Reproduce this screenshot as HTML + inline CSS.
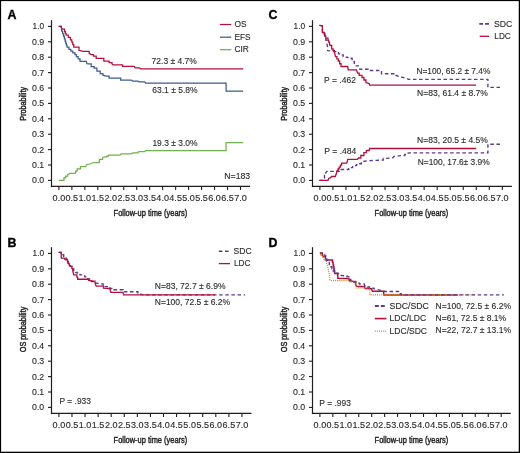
<!DOCTYPE html><html><head><meta charset="utf-8"><style>html,body{margin:0;padding:0;background:#fff;}svg{display:block;} text{font-family:"Liberation Sans", sans-serif;} .t{will-change:transform; filter:blur(0px);}</style></head><body>
<div class="t">
<svg width="520" height="453" viewBox="0 0 520 453">
<rect x="0" y="0" width="520" height="453" fill="#fff"/>
<text x="7.60" y="19.00" font-size="12.4" text-anchor="start" font-weight="bold" fill="#000" stroke="#000" stroke-width="0.35">A</text>
<line x1="51.5" y1="20.2" x2="51.5" y2="187.1" stroke="#1e1e1e" stroke-width="1.2"/>
<line x1="50.9" y1="186.4" x2="250.1" y2="186.4" stroke="#1e1e1e" stroke-width="1.2"/>
<line x1="48.0" y1="180.40" x2="51.5" y2="180.40" stroke="#1e1e1e" stroke-width="1.1"/>
<text x="44.20" y="183.35" font-size="8.3" text-anchor="end" font-weight="normal" fill="#2a2a2a" textLength="12.2" lengthAdjust="spacingAndGlyphs" stroke="#2a2a2a" stroke-width="0.12">0.0</text>
<line x1="48.0" y1="165.00" x2="51.5" y2="165.00" stroke="#1e1e1e" stroke-width="1.1"/>
<text x="44.20" y="167.95" font-size="8.3" text-anchor="end" font-weight="normal" fill="#2a2a2a" textLength="12.2" lengthAdjust="spacingAndGlyphs" stroke="#2a2a2a" stroke-width="0.12">0.1</text>
<line x1="48.0" y1="149.60" x2="51.5" y2="149.60" stroke="#1e1e1e" stroke-width="1.1"/>
<text x="44.20" y="152.55" font-size="8.3" text-anchor="end" font-weight="normal" fill="#2a2a2a" textLength="12.2" lengthAdjust="spacingAndGlyphs" stroke="#2a2a2a" stroke-width="0.12">0.2</text>
<line x1="48.0" y1="134.20" x2="51.5" y2="134.20" stroke="#1e1e1e" stroke-width="1.1"/>
<text x="44.20" y="137.15" font-size="8.3" text-anchor="end" font-weight="normal" fill="#2a2a2a" textLength="12.2" lengthAdjust="spacingAndGlyphs" stroke="#2a2a2a" stroke-width="0.12">0.3</text>
<line x1="48.0" y1="118.80" x2="51.5" y2="118.80" stroke="#1e1e1e" stroke-width="1.1"/>
<text x="44.20" y="121.75" font-size="8.3" text-anchor="end" font-weight="normal" fill="#2a2a2a" textLength="12.2" lengthAdjust="spacingAndGlyphs" stroke="#2a2a2a" stroke-width="0.12">0.4</text>
<line x1="48.0" y1="103.40" x2="51.5" y2="103.40" stroke="#1e1e1e" stroke-width="1.1"/>
<text x="44.20" y="106.35" font-size="8.3" text-anchor="end" font-weight="normal" fill="#2a2a2a" textLength="12.2" lengthAdjust="spacingAndGlyphs" stroke="#2a2a2a" stroke-width="0.12">0.5</text>
<line x1="48.0" y1="88.00" x2="51.5" y2="88.00" stroke="#1e1e1e" stroke-width="1.1"/>
<text x="44.20" y="90.95" font-size="8.3" text-anchor="end" font-weight="normal" fill="#2a2a2a" textLength="12.2" lengthAdjust="spacingAndGlyphs" stroke="#2a2a2a" stroke-width="0.12">0.6</text>
<line x1="48.0" y1="72.60" x2="51.5" y2="72.60" stroke="#1e1e1e" stroke-width="1.1"/>
<text x="44.20" y="75.55" font-size="8.3" text-anchor="end" font-weight="normal" fill="#2a2a2a" textLength="12.2" lengthAdjust="spacingAndGlyphs" stroke="#2a2a2a" stroke-width="0.12">0.7</text>
<line x1="48.0" y1="57.20" x2="51.5" y2="57.20" stroke="#1e1e1e" stroke-width="1.1"/>
<text x="44.20" y="60.15" font-size="8.3" text-anchor="end" font-weight="normal" fill="#2a2a2a" textLength="12.2" lengthAdjust="spacingAndGlyphs" stroke="#2a2a2a" stroke-width="0.12">0.8</text>
<line x1="48.0" y1="41.80" x2="51.5" y2="41.80" stroke="#1e1e1e" stroke-width="1.1"/>
<text x="44.20" y="44.75" font-size="8.3" text-anchor="end" font-weight="normal" fill="#2a2a2a" textLength="12.2" lengthAdjust="spacingAndGlyphs" stroke="#2a2a2a" stroke-width="0.12">0.9</text>
<line x1="48.0" y1="26.40" x2="51.5" y2="26.40" stroke="#1e1e1e" stroke-width="1.1"/>
<text x="44.20" y="29.35" font-size="8.3" text-anchor="end" font-weight="normal" fill="#2a2a2a" textLength="11.6" lengthAdjust="spacingAndGlyphs" stroke="#2a2a2a" stroke-width="0.12">1.0</text>
<line x1="58.90" y1="186.4" x2="58.90" y2="190.0" stroke="#1e1e1e" stroke-width="1.1"/>
<text x="58.90" y="201.30" font-size="8.3" text-anchor="middle" font-weight="normal" fill="#2a2a2a" textLength="12.6" lengthAdjust="spacingAndGlyphs" stroke="#2a2a2a" stroke-width="0.12">0.0</text>
<line x1="71.87" y1="186.4" x2="71.87" y2="190.0" stroke="#1e1e1e" stroke-width="1.1"/>
<text x="71.87" y="201.30" font-size="8.3" text-anchor="middle" font-weight="normal" fill="#2a2a2a" textLength="12.6" lengthAdjust="spacingAndGlyphs" stroke="#2a2a2a" stroke-width="0.12">0.5</text>
<line x1="84.84" y1="186.4" x2="84.84" y2="190.0" stroke="#1e1e1e" stroke-width="1.1"/>
<text x="84.84" y="201.30" font-size="8.3" text-anchor="middle" font-weight="normal" fill="#2a2a2a" textLength="12.6" lengthAdjust="spacingAndGlyphs" stroke="#2a2a2a" stroke-width="0.12">1.0</text>
<line x1="97.81" y1="186.4" x2="97.81" y2="190.0" stroke="#1e1e1e" stroke-width="1.1"/>
<text x="97.81" y="201.30" font-size="8.3" text-anchor="middle" font-weight="normal" fill="#2a2a2a" textLength="12.6" lengthAdjust="spacingAndGlyphs" stroke="#2a2a2a" stroke-width="0.12">1.5</text>
<line x1="110.78" y1="186.4" x2="110.78" y2="190.0" stroke="#1e1e1e" stroke-width="1.1"/>
<text x="110.78" y="201.30" font-size="8.3" text-anchor="middle" font-weight="normal" fill="#2a2a2a" textLength="12.6" lengthAdjust="spacingAndGlyphs" stroke="#2a2a2a" stroke-width="0.12">2.0</text>
<line x1="123.75" y1="186.4" x2="123.75" y2="190.0" stroke="#1e1e1e" stroke-width="1.1"/>
<text x="123.75" y="201.30" font-size="8.3" text-anchor="middle" font-weight="normal" fill="#2a2a2a" textLength="12.6" lengthAdjust="spacingAndGlyphs" stroke="#2a2a2a" stroke-width="0.12">2.5</text>
<line x1="136.72" y1="186.4" x2="136.72" y2="190.0" stroke="#1e1e1e" stroke-width="1.1"/>
<text x="136.72" y="201.30" font-size="8.3" text-anchor="middle" font-weight="normal" fill="#2a2a2a" textLength="12.6" lengthAdjust="spacingAndGlyphs" stroke="#2a2a2a" stroke-width="0.12">3.0</text>
<line x1="149.69" y1="186.4" x2="149.69" y2="190.0" stroke="#1e1e1e" stroke-width="1.1"/>
<text x="149.69" y="201.30" font-size="8.3" text-anchor="middle" font-weight="normal" fill="#2a2a2a" textLength="12.6" lengthAdjust="spacingAndGlyphs" stroke="#2a2a2a" stroke-width="0.12">3.5</text>
<line x1="162.66" y1="186.4" x2="162.66" y2="190.0" stroke="#1e1e1e" stroke-width="1.1"/>
<text x="162.66" y="201.30" font-size="8.3" text-anchor="middle" font-weight="normal" fill="#2a2a2a" textLength="12.6" lengthAdjust="spacingAndGlyphs" stroke="#2a2a2a" stroke-width="0.12">4.0</text>
<line x1="175.63" y1="186.4" x2="175.63" y2="190.0" stroke="#1e1e1e" stroke-width="1.1"/>
<text x="175.63" y="201.30" font-size="8.3" text-anchor="middle" font-weight="normal" fill="#2a2a2a" textLength="12.6" lengthAdjust="spacingAndGlyphs" stroke="#2a2a2a" stroke-width="0.12">4.5</text>
<line x1="188.60" y1="186.4" x2="188.60" y2="190.0" stroke="#1e1e1e" stroke-width="1.1"/>
<text x="188.60" y="201.30" font-size="8.3" text-anchor="middle" font-weight="normal" fill="#2a2a2a" textLength="12.6" lengthAdjust="spacingAndGlyphs" stroke="#2a2a2a" stroke-width="0.12">5.0</text>
<line x1="201.57" y1="186.4" x2="201.57" y2="190.0" stroke="#1e1e1e" stroke-width="1.1"/>
<text x="201.57" y="201.30" font-size="8.3" text-anchor="middle" font-weight="normal" fill="#2a2a2a" textLength="12.6" lengthAdjust="spacingAndGlyphs" stroke="#2a2a2a" stroke-width="0.12">5.5</text>
<line x1="214.54" y1="186.4" x2="214.54" y2="190.0" stroke="#1e1e1e" stroke-width="1.1"/>
<text x="214.54" y="201.30" font-size="8.3" text-anchor="middle" font-weight="normal" fill="#2a2a2a" textLength="12.6" lengthAdjust="spacingAndGlyphs" stroke="#2a2a2a" stroke-width="0.12">6.0</text>
<line x1="227.51" y1="186.4" x2="227.51" y2="190.0" stroke="#1e1e1e" stroke-width="1.1"/>
<text x="227.51" y="201.30" font-size="8.3" text-anchor="middle" font-weight="normal" fill="#2a2a2a" textLength="12.6" lengthAdjust="spacingAndGlyphs" stroke="#2a2a2a" stroke-width="0.12">6.5</text>
<line x1="240.48" y1="186.4" x2="240.48" y2="190.0" stroke="#1e1e1e" stroke-width="1.1"/>
<text x="240.48" y="201.30" font-size="8.3" text-anchor="middle" font-weight="normal" fill="#2a2a2a" textLength="12.6" lengthAdjust="spacingAndGlyphs" stroke="#2a2a2a" stroke-width="0.12">7.0</text>
<text x="113.60" y="216.00" font-size="9.2" text-anchor="start" font-weight="normal" fill="#222" textLength="73.6" lengthAdjust="spacingAndGlyphs" stroke="#222" stroke-width="0.42">Follow-up time (years)</text>
<text transform="translate(26.4,103.8) rotate(-90)" x="0" y="0" font-size="9.2" text-anchor="middle" fill="#222" textLength="33.8" lengthAdjust="spacingAndGlyphs" stroke="#222" stroke-width="0.45">Probability</text>
<polyline points="59.00,180.40 62.40,180.40 64.00,180.40 64.00,177.80 65.85,177.80 65.85,176.10 67.70,176.10 67.70,174.40 70.30,173.40 74.00,173.40 75.60,173.40 75.60,171.10 77.20,171.10 77.20,168.80 80.40,168.80 80.40,166.70 85.70,166.70 86.70,164.60 89.90,164.00 92.60,162.80 96.30,162.50 99.40,162.50 99.40,159.30 102.60,159.30 102.60,157.50 105.00,156.90 106.75,156.90 106.75,156.03 108.50,156.03 108.50,155.15 120.10,155.15 121.00,153.90 131.40,153.90 132.70,152.90 137.90,152.90 138.70,151.50 144.80,151.50 145.70,150.50 226.10,150.50 226.10,142.60 243.20,142.60" fill="none" stroke="#70b04e" stroke-width="1.25" stroke-linejoin="miter"/>
<polyline points="58.70,26.30 61.25,26.30 61.70,31.10 62.67,31.10 62.67,33.75 63.65,33.75 63.65,36.40 64.38,36.40 64.38,38.80 65.10,38.80 65.10,41.20 65.73,41.20 65.73,43.13 66.37,43.13 66.37,45.07 67.00,45.07 67.00,47.00 68.90,47.00 68.90,49.40 70.85,49.40 70.85,51.10 72.80,51.10 72.80,52.80 75.00,52.80 75.00,54.60 76.30,54.60 76.30,56.60 78.15,56.60 78.15,58.92 80.00,58.92 80.00,61.25 86.30,61.25 86.90,63.60 88.90,63.90 91.20,63.90 91.20,66.60 94.20,66.60 94.20,68.20 96.90,68.20 96.90,71.20 100.20,71.20 100.20,73.50 102.90,73.50 102.90,75.20 105.80,76.15 109.10,76.15 109.10,78.10 119.20,78.10 120.70,78.10 120.70,80.00 131.25,80.00 132.70,81.00 138.00,81.00 138.90,81.90 144.70,81.90 145.70,83.10 226.10,83.10 226.10,91.10 243.20,91.10" fill="none" stroke="#3e5b8d" stroke-width="1.25" stroke-linejoin="miter"/>
<polyline points="58.70,26.30 61.25,26.30 61.25,27.30 62.20,29.20 64.60,29.20 64.60,31.60 65.35,31.60 65.35,33.30 66.10,33.30 66.10,35.00 68.25,35.00 68.25,37.40 70.40,37.40 70.40,39.80 71.80,39.80 71.80,42.20 72.78,42.20 72.78,44.70 73.75,44.70 73.75,47.20 75.70,47.20 79.00,47.20 79.00,50.30 82.90,51.30 86.90,51.30 89.20,51.30 89.20,53.60 91.60,54.60 93.50,54.60 93.50,56.00 96.20,56.00 96.20,58.30 100.80,58.30 103.85,58.30 103.85,61.05 107.20,61.05 109.10,61.05 109.10,62.50 112.00,62.50 112.00,63.90 113.00,64.90 119.70,64.90 122.60,64.90 122.60,66.35 134.10,66.35 135.10,67.80 139.40,67.80 140.40,68.80 243.20,68.80" fill="none" stroke="#b0103c" stroke-width="1.25" stroke-linejoin="miter"/>
<line x1="219.9" y1="24.5" x2="231.3" y2="24.5" stroke="#b0103c" stroke-width="1.25"/>
<line x1="219.9" y1="37.2" x2="231.3" y2="37.2" stroke="#3e5b8d" stroke-width="1.25"/>
<line x1="219.9" y1="49.7" x2="231.3" y2="49.7" stroke="#70b04e" stroke-width="1.25"/>
<text x="234.40" y="27.20" font-size="8.4" text-anchor="start" font-weight="normal" fill="#2a2a2a" stroke="#2a2a2a" stroke-width="0.12">OS</text>
<text x="234.40" y="39.70" font-size="8.4" text-anchor="start" font-weight="normal" fill="#2a2a2a" stroke="#2a2a2a" stroke-width="0.12">EFS</text>
<text x="234.40" y="52.20" font-size="8.4" text-anchor="start" font-weight="normal" fill="#2a2a2a" stroke="#2a2a2a" stroke-width="0.12">CIR</text>
<text x="151.60" y="63.90" font-size="8.3" text-anchor="start" font-weight="normal" fill="#2a2a2a" textLength="45.3" lengthAdjust="spacingAndGlyphs" stroke="#2a2a2a" stroke-width="0.12">72.3 ± 4.7%</text>
<text x="152.20" y="93.20" font-size="8.3" text-anchor="start" font-weight="normal" fill="#2a2a2a" textLength="45.4" lengthAdjust="spacingAndGlyphs" stroke="#2a2a2a" stroke-width="0.12">63.1 ± 5.8%</text>
<text x="152.40" y="146.00" font-size="8.3" text-anchor="start" font-weight="normal" fill="#2a2a2a" textLength="45.2" lengthAdjust="spacingAndGlyphs" stroke="#2a2a2a" stroke-width="0.12">19.3 ± 3.0%</text>
<text x="224.30" y="179.00" font-size="8.3" text-anchor="start" font-weight="normal" fill="#2a2a2a" textLength="25.9" lengthAdjust="spacingAndGlyphs" stroke="#2a2a2a" stroke-width="0.12">N=183</text>
<text x="7.60" y="246.50" font-size="12.4" text-anchor="start" font-weight="bold" fill="#000" stroke="#000" stroke-width="0.35">B</text>
<line x1="51.5" y1="247.2" x2="51.5" y2="414.1" stroke="#1e1e1e" stroke-width="1.2"/>
<line x1="50.9" y1="413.4" x2="251.5" y2="413.4" stroke="#1e1e1e" stroke-width="1.2"/>
<line x1="48.0" y1="407.40" x2="51.5" y2="407.40" stroke="#1e1e1e" stroke-width="1.1"/>
<text x="44.20" y="410.35" font-size="8.3" text-anchor="end" font-weight="normal" fill="#2a2a2a" textLength="12.2" lengthAdjust="spacingAndGlyphs" stroke="#2a2a2a" stroke-width="0.12">0.0</text>
<line x1="48.0" y1="392.00" x2="51.5" y2="392.00" stroke="#1e1e1e" stroke-width="1.1"/>
<text x="44.20" y="394.95" font-size="8.3" text-anchor="end" font-weight="normal" fill="#2a2a2a" textLength="12.2" lengthAdjust="spacingAndGlyphs" stroke="#2a2a2a" stroke-width="0.12">0.1</text>
<line x1="48.0" y1="376.60" x2="51.5" y2="376.60" stroke="#1e1e1e" stroke-width="1.1"/>
<text x="44.20" y="379.55" font-size="8.3" text-anchor="end" font-weight="normal" fill="#2a2a2a" textLength="12.2" lengthAdjust="spacingAndGlyphs" stroke="#2a2a2a" stroke-width="0.12">0.2</text>
<line x1="48.0" y1="361.20" x2="51.5" y2="361.20" stroke="#1e1e1e" stroke-width="1.1"/>
<text x="44.20" y="364.15" font-size="8.3" text-anchor="end" font-weight="normal" fill="#2a2a2a" textLength="12.2" lengthAdjust="spacingAndGlyphs" stroke="#2a2a2a" stroke-width="0.12">0.3</text>
<line x1="48.0" y1="345.80" x2="51.5" y2="345.80" stroke="#1e1e1e" stroke-width="1.1"/>
<text x="44.20" y="348.75" font-size="8.3" text-anchor="end" font-weight="normal" fill="#2a2a2a" textLength="12.2" lengthAdjust="spacingAndGlyphs" stroke="#2a2a2a" stroke-width="0.12">0.4</text>
<line x1="48.0" y1="330.40" x2="51.5" y2="330.40" stroke="#1e1e1e" stroke-width="1.1"/>
<text x="44.20" y="333.35" font-size="8.3" text-anchor="end" font-weight="normal" fill="#2a2a2a" textLength="12.2" lengthAdjust="spacingAndGlyphs" stroke="#2a2a2a" stroke-width="0.12">0.5</text>
<line x1="48.0" y1="315.00" x2="51.5" y2="315.00" stroke="#1e1e1e" stroke-width="1.1"/>
<text x="44.20" y="317.95" font-size="8.3" text-anchor="end" font-weight="normal" fill="#2a2a2a" textLength="12.2" lengthAdjust="spacingAndGlyphs" stroke="#2a2a2a" stroke-width="0.12">0.6</text>
<line x1="48.0" y1="299.60" x2="51.5" y2="299.60" stroke="#1e1e1e" stroke-width="1.1"/>
<text x="44.20" y="302.55" font-size="8.3" text-anchor="end" font-weight="normal" fill="#2a2a2a" textLength="12.2" lengthAdjust="spacingAndGlyphs" stroke="#2a2a2a" stroke-width="0.12">0.7</text>
<line x1="48.0" y1="284.20" x2="51.5" y2="284.20" stroke="#1e1e1e" stroke-width="1.1"/>
<text x="44.20" y="287.15" font-size="8.3" text-anchor="end" font-weight="normal" fill="#2a2a2a" textLength="12.2" lengthAdjust="spacingAndGlyphs" stroke="#2a2a2a" stroke-width="0.12">0.8</text>
<line x1="48.0" y1="268.80" x2="51.5" y2="268.80" stroke="#1e1e1e" stroke-width="1.1"/>
<text x="44.20" y="271.75" font-size="8.3" text-anchor="end" font-weight="normal" fill="#2a2a2a" textLength="12.2" lengthAdjust="spacingAndGlyphs" stroke="#2a2a2a" stroke-width="0.12">0.9</text>
<line x1="48.0" y1="253.40" x2="51.5" y2="253.40" stroke="#1e1e1e" stroke-width="1.1"/>
<text x="44.20" y="256.35" font-size="8.3" text-anchor="end" font-weight="normal" fill="#2a2a2a" textLength="11.6" lengthAdjust="spacingAndGlyphs" stroke="#2a2a2a" stroke-width="0.12">1.0</text>
<line x1="58.90" y1="413.4" x2="58.90" y2="417.0" stroke="#1e1e1e" stroke-width="1.1"/>
<text x="58.90" y="428.30" font-size="8.3" text-anchor="middle" font-weight="normal" fill="#2a2a2a" textLength="12.6" lengthAdjust="spacingAndGlyphs" stroke="#2a2a2a" stroke-width="0.12">0.0</text>
<line x1="71.97" y1="413.4" x2="71.97" y2="417.0" stroke="#1e1e1e" stroke-width="1.1"/>
<text x="71.97" y="428.30" font-size="8.3" text-anchor="middle" font-weight="normal" fill="#2a2a2a" textLength="12.6" lengthAdjust="spacingAndGlyphs" stroke="#2a2a2a" stroke-width="0.12">0.5</text>
<line x1="85.05" y1="413.4" x2="85.05" y2="417.0" stroke="#1e1e1e" stroke-width="1.1"/>
<text x="85.05" y="428.30" font-size="8.3" text-anchor="middle" font-weight="normal" fill="#2a2a2a" textLength="12.6" lengthAdjust="spacingAndGlyphs" stroke="#2a2a2a" stroke-width="0.12">1.0</text>
<line x1="98.12" y1="413.4" x2="98.12" y2="417.0" stroke="#1e1e1e" stroke-width="1.1"/>
<text x="98.12" y="428.30" font-size="8.3" text-anchor="middle" font-weight="normal" fill="#2a2a2a" textLength="12.6" lengthAdjust="spacingAndGlyphs" stroke="#2a2a2a" stroke-width="0.12">1.5</text>
<line x1="111.20" y1="413.4" x2="111.20" y2="417.0" stroke="#1e1e1e" stroke-width="1.1"/>
<text x="111.20" y="428.30" font-size="8.3" text-anchor="middle" font-weight="normal" fill="#2a2a2a" textLength="12.6" lengthAdjust="spacingAndGlyphs" stroke="#2a2a2a" stroke-width="0.12">2.0</text>
<line x1="124.28" y1="413.4" x2="124.28" y2="417.0" stroke="#1e1e1e" stroke-width="1.1"/>
<text x="124.28" y="428.30" font-size="8.3" text-anchor="middle" font-weight="normal" fill="#2a2a2a" textLength="12.6" lengthAdjust="spacingAndGlyphs" stroke="#2a2a2a" stroke-width="0.12">2.5</text>
<line x1="137.35" y1="413.4" x2="137.35" y2="417.0" stroke="#1e1e1e" stroke-width="1.1"/>
<text x="137.35" y="428.30" font-size="8.3" text-anchor="middle" font-weight="normal" fill="#2a2a2a" textLength="12.6" lengthAdjust="spacingAndGlyphs" stroke="#2a2a2a" stroke-width="0.12">3.0</text>
<line x1="150.42" y1="413.4" x2="150.42" y2="417.0" stroke="#1e1e1e" stroke-width="1.1"/>
<text x="150.42" y="428.30" font-size="8.3" text-anchor="middle" font-weight="normal" fill="#2a2a2a" textLength="12.6" lengthAdjust="spacingAndGlyphs" stroke="#2a2a2a" stroke-width="0.12">3.5</text>
<line x1="163.50" y1="413.4" x2="163.50" y2="417.0" stroke="#1e1e1e" stroke-width="1.1"/>
<text x="163.50" y="428.30" font-size="8.3" text-anchor="middle" font-weight="normal" fill="#2a2a2a" textLength="12.6" lengthAdjust="spacingAndGlyphs" stroke="#2a2a2a" stroke-width="0.12">4.0</text>
<line x1="176.57" y1="413.4" x2="176.57" y2="417.0" stroke="#1e1e1e" stroke-width="1.1"/>
<text x="176.57" y="428.30" font-size="8.3" text-anchor="middle" font-weight="normal" fill="#2a2a2a" textLength="12.6" lengthAdjust="spacingAndGlyphs" stroke="#2a2a2a" stroke-width="0.12">4.5</text>
<line x1="189.65" y1="413.4" x2="189.65" y2="417.0" stroke="#1e1e1e" stroke-width="1.1"/>
<text x="189.65" y="428.30" font-size="8.3" text-anchor="middle" font-weight="normal" fill="#2a2a2a" textLength="12.6" lengthAdjust="spacingAndGlyphs" stroke="#2a2a2a" stroke-width="0.12">5.0</text>
<line x1="202.72" y1="413.4" x2="202.72" y2="417.0" stroke="#1e1e1e" stroke-width="1.1"/>
<text x="202.72" y="428.30" font-size="8.3" text-anchor="middle" font-weight="normal" fill="#2a2a2a" textLength="12.6" lengthAdjust="spacingAndGlyphs" stroke="#2a2a2a" stroke-width="0.12">5.5</text>
<line x1="215.80" y1="413.4" x2="215.80" y2="417.0" stroke="#1e1e1e" stroke-width="1.1"/>
<text x="215.80" y="428.30" font-size="8.3" text-anchor="middle" font-weight="normal" fill="#2a2a2a" textLength="12.6" lengthAdjust="spacingAndGlyphs" stroke="#2a2a2a" stroke-width="0.12">6.0</text>
<line x1="228.88" y1="413.4" x2="228.88" y2="417.0" stroke="#1e1e1e" stroke-width="1.1"/>
<text x="228.88" y="428.30" font-size="8.3" text-anchor="middle" font-weight="normal" fill="#2a2a2a" textLength="12.6" lengthAdjust="spacingAndGlyphs" stroke="#2a2a2a" stroke-width="0.12">6.5</text>
<line x1="241.95" y1="413.4" x2="241.95" y2="417.0" stroke="#1e1e1e" stroke-width="1.1"/>
<text x="241.95" y="428.30" font-size="8.3" text-anchor="middle" font-weight="normal" fill="#2a2a2a" textLength="12.6" lengthAdjust="spacingAndGlyphs" stroke="#2a2a2a" stroke-width="0.12">7.0</text>
<text x="113.60" y="443.00" font-size="9.2" text-anchor="start" font-weight="normal" fill="#222" textLength="73.6" lengthAdjust="spacingAndGlyphs" stroke="#222" stroke-width="0.42">Follow-up time (years)</text>
<text transform="translate(26.4,329.4) rotate(-90)" x="0" y="0" font-size="9.2" text-anchor="middle" fill="#222" textLength="45.5" lengthAdjust="spacingAndGlyphs" stroke="#222" stroke-width="0.45">OS probability</text>
<polyline points="58.65,252.30 60.80,252.30 60.80,254.70 63.70,254.70 63.70,256.20 64.90,256.20 64.90,257.85 66.10,257.85 66.10,259.50 67.05,259.50 67.05,261.45 68.00,261.45 68.00,263.40 70.40,263.40 70.40,266.30 72.08,266.30 72.08,268.95 73.75,268.95 73.75,271.60 75.42,271.60 75.42,272.30 77.10,272.30 77.10,273.00 80.00,273.00 80.00,274.90 82.40,274.90 82.40,275.88 84.80,275.88 84.80,276.85 87.70,276.85 87.70,278.80 89.60,278.80 89.60,280.23 91.50,280.23 91.50,281.65 93.25,281.65 93.25,282.27 95.00,282.27 95.00,282.90 101.30,283.90 103.15,283.90 103.15,285.25 105.00,285.25 105.00,286.60 107.40,286.60 107.40,287.55 109.80,287.55 109.80,288.50 111.90,288.50 111.90,289.12 114.00,289.12 114.00,289.75 121.50,289.75 123.00,289.75 123.00,291.70 135.70,291.70 137.85,291.70 137.85,292.75 140.00,292.75 140.00,293.80 142.60,294.80 245.00,294.80" fill="none" stroke="#5c3a8c" stroke-width="1.35" stroke-linejoin="miter" stroke-dasharray="3.5 2.6"/>
<polyline points="58.65,252.30 61.25,252.30 61.25,258.10 64.10,258.10 65.10,259.50 67.50,259.50 67.50,261.90 68.45,261.90 68.45,263.85 69.40,263.85 69.40,265.80 70.90,266.30 71.85,266.30 71.85,268.70 72.80,268.70 72.80,271.10 73.75,274.90 76.15,274.90 76.88,274.90 76.88,277.07 77.60,277.07 77.60,279.25 87.20,279.25 88.65,279.25 88.65,280.50 93.50,281.20 95.00,281.20 95.00,282.90 96.10,286.05 103.50,286.05 103.50,288.20 109.80,288.50 110.90,292.40 123.00,292.40 123.60,294.80 215.00,294.80" fill="none" stroke="#b0103c" stroke-width="1.3" stroke-linejoin="miter"/>
<line x1="218.8" y1="251.2" x2="229" y2="251.2" stroke="#5c3a8c" stroke-width="1.6" stroke-dasharray="3.6 2.6"/>
<line x1="218.8" y1="263.6" x2="230" y2="263.6" stroke="#b0103c" stroke-width="1.3"/>
<text x="233.60" y="254.00" font-size="8.5" text-anchor="start" font-weight="normal" fill="#2a2a2a" textLength="18.2" lengthAdjust="spacingAndGlyphs" stroke="#2a2a2a" stroke-width="0.12">SDC</text>
<text x="233.90" y="266.30" font-size="8.5" text-anchor="start" font-weight="normal" fill="#2a2a2a" textLength="16.5" lengthAdjust="spacingAndGlyphs" stroke="#2a2a2a" stroke-width="0.12">LDC</text>
<text x="154.80" y="288.90" font-size="8.3" text-anchor="start" font-weight="normal" fill="#2a2a2a" textLength="70.7" lengthAdjust="spacingAndGlyphs" stroke="#2a2a2a" stroke-width="0.12">N=83, 72.7 ± 6.9%</text>
<text x="154.80" y="305.00" font-size="8.3" text-anchor="start" font-weight="normal" fill="#2a2a2a" textLength="75.2" lengthAdjust="spacingAndGlyphs" stroke="#2a2a2a" stroke-width="0.12">N=100, 72.5 ± 6.2%</text>
<text x="59.60" y="404.40" font-size="8.3" text-anchor="start" font-weight="normal" fill="#2a2a2a" textLength="31.3" lengthAdjust="spacingAndGlyphs" stroke="#2a2a2a" stroke-width="0.12">P = .933</text>
<text x="268.60" y="19.00" font-size="12.4" text-anchor="start" font-weight="bold" fill="#000" stroke="#000" stroke-width="0.35">C</text>
<line x1="312.5" y1="20.2" x2="312.5" y2="187.1" stroke="#1e1e1e" stroke-width="1.2"/>
<line x1="311.9" y1="186.4" x2="511.9" y2="186.4" stroke="#1e1e1e" stroke-width="1.2"/>
<line x1="309.0" y1="180.40" x2="312.5" y2="180.40" stroke="#1e1e1e" stroke-width="1.1"/>
<text x="305.20" y="183.35" font-size="8.3" text-anchor="end" font-weight="normal" fill="#2a2a2a" textLength="12.2" lengthAdjust="spacingAndGlyphs" stroke="#2a2a2a" stroke-width="0.12">0.0</text>
<line x1="309.0" y1="165.00" x2="312.5" y2="165.00" stroke="#1e1e1e" stroke-width="1.1"/>
<text x="305.20" y="167.95" font-size="8.3" text-anchor="end" font-weight="normal" fill="#2a2a2a" textLength="12.2" lengthAdjust="spacingAndGlyphs" stroke="#2a2a2a" stroke-width="0.12">0.1</text>
<line x1="309.0" y1="149.60" x2="312.5" y2="149.60" stroke="#1e1e1e" stroke-width="1.1"/>
<text x="305.20" y="152.55" font-size="8.3" text-anchor="end" font-weight="normal" fill="#2a2a2a" textLength="12.2" lengthAdjust="spacingAndGlyphs" stroke="#2a2a2a" stroke-width="0.12">0.2</text>
<line x1="309.0" y1="134.20" x2="312.5" y2="134.20" stroke="#1e1e1e" stroke-width="1.1"/>
<text x="305.20" y="137.15" font-size="8.3" text-anchor="end" font-weight="normal" fill="#2a2a2a" textLength="12.2" lengthAdjust="spacingAndGlyphs" stroke="#2a2a2a" stroke-width="0.12">0.3</text>
<line x1="309.0" y1="118.80" x2="312.5" y2="118.80" stroke="#1e1e1e" stroke-width="1.1"/>
<text x="305.20" y="121.75" font-size="8.3" text-anchor="end" font-weight="normal" fill="#2a2a2a" textLength="12.2" lengthAdjust="spacingAndGlyphs" stroke="#2a2a2a" stroke-width="0.12">0.4</text>
<line x1="309.0" y1="103.40" x2="312.5" y2="103.40" stroke="#1e1e1e" stroke-width="1.1"/>
<text x="305.20" y="106.35" font-size="8.3" text-anchor="end" font-weight="normal" fill="#2a2a2a" textLength="12.2" lengthAdjust="spacingAndGlyphs" stroke="#2a2a2a" stroke-width="0.12">0.5</text>
<line x1="309.0" y1="88.00" x2="312.5" y2="88.00" stroke="#1e1e1e" stroke-width="1.1"/>
<text x="305.20" y="90.95" font-size="8.3" text-anchor="end" font-weight="normal" fill="#2a2a2a" textLength="12.2" lengthAdjust="spacingAndGlyphs" stroke="#2a2a2a" stroke-width="0.12">0.6</text>
<line x1="309.0" y1="72.60" x2="312.5" y2="72.60" stroke="#1e1e1e" stroke-width="1.1"/>
<text x="305.20" y="75.55" font-size="8.3" text-anchor="end" font-weight="normal" fill="#2a2a2a" textLength="12.2" lengthAdjust="spacingAndGlyphs" stroke="#2a2a2a" stroke-width="0.12">0.7</text>
<line x1="309.0" y1="57.20" x2="312.5" y2="57.20" stroke="#1e1e1e" stroke-width="1.1"/>
<text x="305.20" y="60.15" font-size="8.3" text-anchor="end" font-weight="normal" fill="#2a2a2a" textLength="12.2" lengthAdjust="spacingAndGlyphs" stroke="#2a2a2a" stroke-width="0.12">0.8</text>
<line x1="309.0" y1="41.80" x2="312.5" y2="41.80" stroke="#1e1e1e" stroke-width="1.1"/>
<text x="305.20" y="44.75" font-size="8.3" text-anchor="end" font-weight="normal" fill="#2a2a2a" textLength="12.2" lengthAdjust="spacingAndGlyphs" stroke="#2a2a2a" stroke-width="0.12">0.9</text>
<line x1="309.0" y1="26.40" x2="312.5" y2="26.40" stroke="#1e1e1e" stroke-width="1.1"/>
<text x="305.20" y="29.35" font-size="8.3" text-anchor="end" font-weight="normal" fill="#2a2a2a" textLength="11.6" lengthAdjust="spacingAndGlyphs" stroke="#2a2a2a" stroke-width="0.12">1.0</text>
<line x1="319.90" y1="186.4" x2="319.90" y2="190.0" stroke="#1e1e1e" stroke-width="1.1"/>
<text x="319.90" y="201.30" font-size="8.3" text-anchor="middle" font-weight="normal" fill="#2a2a2a" textLength="12.6" lengthAdjust="spacingAndGlyphs" stroke="#2a2a2a" stroke-width="0.12">0.0</text>
<line x1="332.93" y1="186.4" x2="332.93" y2="190.0" stroke="#1e1e1e" stroke-width="1.1"/>
<text x="332.93" y="201.30" font-size="8.3" text-anchor="middle" font-weight="normal" fill="#2a2a2a" textLength="12.6" lengthAdjust="spacingAndGlyphs" stroke="#2a2a2a" stroke-width="0.12">0.5</text>
<line x1="345.96" y1="186.4" x2="345.96" y2="190.0" stroke="#1e1e1e" stroke-width="1.1"/>
<text x="345.96" y="201.30" font-size="8.3" text-anchor="middle" font-weight="normal" fill="#2a2a2a" textLength="12.6" lengthAdjust="spacingAndGlyphs" stroke="#2a2a2a" stroke-width="0.12">1.0</text>
<line x1="358.99" y1="186.4" x2="358.99" y2="190.0" stroke="#1e1e1e" stroke-width="1.1"/>
<text x="358.99" y="201.30" font-size="8.3" text-anchor="middle" font-weight="normal" fill="#2a2a2a" textLength="12.6" lengthAdjust="spacingAndGlyphs" stroke="#2a2a2a" stroke-width="0.12">1.5</text>
<line x1="372.02" y1="186.4" x2="372.02" y2="190.0" stroke="#1e1e1e" stroke-width="1.1"/>
<text x="372.02" y="201.30" font-size="8.3" text-anchor="middle" font-weight="normal" fill="#2a2a2a" textLength="12.6" lengthAdjust="spacingAndGlyphs" stroke="#2a2a2a" stroke-width="0.12">2.0</text>
<line x1="385.05" y1="186.4" x2="385.05" y2="190.0" stroke="#1e1e1e" stroke-width="1.1"/>
<text x="385.05" y="201.30" font-size="8.3" text-anchor="middle" font-weight="normal" fill="#2a2a2a" textLength="12.6" lengthAdjust="spacingAndGlyphs" stroke="#2a2a2a" stroke-width="0.12">2.5</text>
<line x1="398.08" y1="186.4" x2="398.08" y2="190.0" stroke="#1e1e1e" stroke-width="1.1"/>
<text x="398.08" y="201.30" font-size="8.3" text-anchor="middle" font-weight="normal" fill="#2a2a2a" textLength="12.6" lengthAdjust="spacingAndGlyphs" stroke="#2a2a2a" stroke-width="0.12">3.0</text>
<line x1="411.11" y1="186.4" x2="411.11" y2="190.0" stroke="#1e1e1e" stroke-width="1.1"/>
<text x="411.11" y="201.30" font-size="8.3" text-anchor="middle" font-weight="normal" fill="#2a2a2a" textLength="12.6" lengthAdjust="spacingAndGlyphs" stroke="#2a2a2a" stroke-width="0.12">3.5</text>
<line x1="424.14" y1="186.4" x2="424.14" y2="190.0" stroke="#1e1e1e" stroke-width="1.1"/>
<text x="424.14" y="201.30" font-size="8.3" text-anchor="middle" font-weight="normal" fill="#2a2a2a" textLength="12.6" lengthAdjust="spacingAndGlyphs" stroke="#2a2a2a" stroke-width="0.12">4.0</text>
<line x1="437.17" y1="186.4" x2="437.17" y2="190.0" stroke="#1e1e1e" stroke-width="1.1"/>
<text x="437.17" y="201.30" font-size="8.3" text-anchor="middle" font-weight="normal" fill="#2a2a2a" textLength="12.6" lengthAdjust="spacingAndGlyphs" stroke="#2a2a2a" stroke-width="0.12">4.5</text>
<line x1="450.20" y1="186.4" x2="450.20" y2="190.0" stroke="#1e1e1e" stroke-width="1.1"/>
<text x="450.20" y="201.30" font-size="8.3" text-anchor="middle" font-weight="normal" fill="#2a2a2a" textLength="12.6" lengthAdjust="spacingAndGlyphs" stroke="#2a2a2a" stroke-width="0.12">5.0</text>
<line x1="463.23" y1="186.4" x2="463.23" y2="190.0" stroke="#1e1e1e" stroke-width="1.1"/>
<text x="463.23" y="201.30" font-size="8.3" text-anchor="middle" font-weight="normal" fill="#2a2a2a" textLength="12.6" lengthAdjust="spacingAndGlyphs" stroke="#2a2a2a" stroke-width="0.12">5.5</text>
<line x1="476.26" y1="186.4" x2="476.26" y2="190.0" stroke="#1e1e1e" stroke-width="1.1"/>
<text x="476.26" y="201.30" font-size="8.3" text-anchor="middle" font-weight="normal" fill="#2a2a2a" textLength="12.6" lengthAdjust="spacingAndGlyphs" stroke="#2a2a2a" stroke-width="0.12">6.0</text>
<line x1="489.29" y1="186.4" x2="489.29" y2="190.0" stroke="#1e1e1e" stroke-width="1.1"/>
<text x="489.29" y="201.30" font-size="8.3" text-anchor="middle" font-weight="normal" fill="#2a2a2a" textLength="12.6" lengthAdjust="spacingAndGlyphs" stroke="#2a2a2a" stroke-width="0.12">6.5</text>
<line x1="502.32" y1="186.4" x2="502.32" y2="190.0" stroke="#1e1e1e" stroke-width="1.1"/>
<text x="502.32" y="201.30" font-size="8.3" text-anchor="middle" font-weight="normal" fill="#2a2a2a" textLength="12.6" lengthAdjust="spacingAndGlyphs" stroke="#2a2a2a" stroke-width="0.12">7.0</text>
<text x="374.60" y="216.00" font-size="9.2" text-anchor="start" font-weight="normal" fill="#222" textLength="73.6" lengthAdjust="spacingAndGlyphs" stroke="#222" stroke-width="0.42">Follow-up time (years)</text>
<text transform="translate(287.4,103.8) rotate(-90)" x="0" y="0" font-size="9.2" text-anchor="middle" fill="#222" textLength="33.8" lengthAdjust="spacingAndGlyphs" stroke="#222" stroke-width="0.45">Probability</text>
<polyline points="319.40,25.40 322.40,25.80 322.40,32.50 324.30,32.50 324.30,34.00 325.00,37.80 325.75,37.80 325.75,40.05 326.50,40.05 326.50,42.30 327.30,45.30 327.70,50.60 331.00,50.90 334.40,51.60 336.43,51.60 336.43,52.70 338.47,52.70 338.47,53.80 340.50,53.80 340.50,54.90 343.20,54.90 343.20,56.60 345.23,56.60 345.23,57.13 347.27,57.13 347.27,57.67 349.30,57.67 349.30,58.20 352.10,58.20 352.10,61.50 354.30,61.50 354.30,63.70 354.80,65.90 359.20,65.90 359.80,69.20 366.40,69.20 368.05,69.20 368.05,69.85 369.70,69.85 369.70,70.50 381.50,70.50 381.50,73.70 394.00,73.70 396.00,73.70 396.00,75.50 398.80,76.40 402.70,77.40 406.50,78.30 408.50,79.30 487.90,79.30 487.90,87.30 500.00,87.30" fill="none" stroke="#5c3a8c" stroke-width="1.35" stroke-linejoin="miter" stroke-dasharray="3.5 2.6"/>
<polyline points="319.40,180.30 322.30,180.30 323.30,178.10 324.50,178.10 324.50,175.45 325.70,175.45 325.70,172.80 326.70,171.40 336.30,171.40 339.20,171.40 339.20,169.50 346.80,169.50 348.75,169.50 348.75,168.55 350.70,168.55 350.70,167.60 352.60,167.60 352.60,166.60 354.50,166.60 354.50,165.60 356.45,165.60 356.45,164.65 358.40,164.65 358.40,163.70 361.30,163.70 361.30,161.80 367.80,160.75 381.20,160.10 383.20,160.10 383.20,158.50 392.80,157.90 393.70,156.60 402.40,155.50 404.80,155.50 404.80,154.43 407.20,154.43 407.20,153.35 409.00,152.80 487.90,152.80 487.90,144.20 501.60,144.20" fill="none" stroke="#5c3a8c" stroke-width="1.35" stroke-linejoin="miter" stroke-dasharray="3.5 2.6"/>
<polyline points="319.40,25.40 322.40,25.80 322.40,32.50 324.30,32.50 324.30,34.00 325.05,34.00 325.05,36.10 325.80,36.10 325.80,38.20 328.00,38.20 328.00,40.40 328.75,40.40 328.75,42.10 329.50,42.10 329.50,43.80 330.00,45.50 331.70,45.50 331.70,48.80 333.05,48.80 333.05,50.45 334.40,50.45 334.40,52.10 335.50,56.60 336.90,56.60 336.90,58.80 338.30,58.80 338.30,61.00 339.65,61.00 339.65,63.75 341.00,63.75 341.00,66.50 347.70,66.50 348.20,69.80 356.50,69.80 357.60,73.10 359.20,73.10 359.20,75.30 362.00,75.30 362.00,77.50 363.95,77.50 363.95,80.00 365.90,80.00 365.90,82.50 369.20,83.60 369.70,85.20 476.20,85.20" fill="none" stroke="#b0103c" stroke-width="1.3" stroke-linejoin="miter"/>
<polyline points="319.40,180.30 328.10,180.30 328.60,178.40 330.50,177.65 331.50,176.50 335.30,176.50 336.30,173.80 337.20,170.40 338.20,170.40 338.20,168.75 339.20,168.75 339.20,167.10 340.40,167.10 340.40,165.15 341.60,165.15 341.60,163.20 346.80,163.20 347.80,159.40 357.40,159.40 358.40,158.00 360.80,158.00 360.80,155.50 363.90,155.50 363.90,152.60 366.30,152.60 366.30,150.50 369.20,150.50 369.70,148.50 476.20,148.50" fill="none" stroke="#b0103c" stroke-width="1.3" stroke-linejoin="miter"/>
<line x1="479.3" y1="23.9" x2="489.5" y2="23.9" stroke="#5c3a8c" stroke-width="1.6" stroke-dasharray="3.8 2.0"/>
<line x1="479.7" y1="36.3" x2="489.2" y2="36.3" stroke="#b0103c" stroke-width="1.3"/>
<text x="494.00" y="26.70" font-size="8.5" text-anchor="start" font-weight="normal" fill="#2a2a2a" textLength="18.2" lengthAdjust="spacingAndGlyphs" stroke="#2a2a2a" stroke-width="0.12">SDC</text>
<text x="494.30" y="39.00" font-size="8.5" text-anchor="start" font-weight="normal" fill="#2a2a2a" textLength="16.5" lengthAdjust="spacingAndGlyphs" stroke="#2a2a2a" stroke-width="0.12">LDC</text>
<text x="324.10" y="82.60" font-size="8.3" text-anchor="start" font-weight="normal" fill="#2a2a2a" textLength="31.9" lengthAdjust="spacingAndGlyphs" stroke="#2a2a2a" stroke-width="0.12">P = .462</text>
<text x="324.30" y="153.80" font-size="8.3" text-anchor="start" font-weight="normal" fill="#2a2a2a" textLength="32.1" lengthAdjust="spacingAndGlyphs" stroke="#2a2a2a" stroke-width="0.12">P = .484</text>
<text x="416.40" y="74.30" font-size="8.3" text-anchor="start" font-weight="normal" fill="#2a2a2a" textLength="74.0" lengthAdjust="spacingAndGlyphs" stroke="#2a2a2a" stroke-width="0.12">N=100, 65.2 ± 7.4%</text>
<text x="417.10" y="95.50" font-size="8.3" text-anchor="start" font-weight="normal" fill="#2a2a2a" textLength="70.8" lengthAdjust="spacingAndGlyphs" stroke="#2a2a2a" stroke-width="0.12">N=83, 61.4 ± 8.7%</text>
<text x="417.10" y="143.10" font-size="8.3" text-anchor="start" font-weight="normal" fill="#2a2a2a" textLength="70.7" lengthAdjust="spacingAndGlyphs" stroke="#2a2a2a" stroke-width="0.12">N=83, 20.5 ± 4.5%</text>
<text x="417.80" y="165.00" font-size="8.3" text-anchor="start" font-weight="normal" fill="#2a2a2a" textLength="71.8" lengthAdjust="spacingAndGlyphs" stroke="#2a2a2a" stroke-width="0.12">N=100, 17.6± 3.9%</text>
<text x="268.60" y="246.50" font-size="12.4" text-anchor="start" font-weight="bold" fill="#000" stroke="#000" stroke-width="0.35">D</text>
<line x1="312.5" y1="247.2" x2="312.5" y2="414.1" stroke="#1e1e1e" stroke-width="1.2"/>
<line x1="311.9" y1="413.4" x2="510.8" y2="413.4" stroke="#1e1e1e" stroke-width="1.2"/>
<line x1="309.0" y1="407.40" x2="312.5" y2="407.40" stroke="#1e1e1e" stroke-width="1.1"/>
<text x="305.20" y="410.35" font-size="8.3" text-anchor="end" font-weight="normal" fill="#2a2a2a" textLength="12.2" lengthAdjust="spacingAndGlyphs" stroke="#2a2a2a" stroke-width="0.12">0.0</text>
<line x1="309.0" y1="392.00" x2="312.5" y2="392.00" stroke="#1e1e1e" stroke-width="1.1"/>
<text x="305.20" y="394.95" font-size="8.3" text-anchor="end" font-weight="normal" fill="#2a2a2a" textLength="12.2" lengthAdjust="spacingAndGlyphs" stroke="#2a2a2a" stroke-width="0.12">0.1</text>
<line x1="309.0" y1="376.60" x2="312.5" y2="376.60" stroke="#1e1e1e" stroke-width="1.1"/>
<text x="305.20" y="379.55" font-size="8.3" text-anchor="end" font-weight="normal" fill="#2a2a2a" textLength="12.2" lengthAdjust="spacingAndGlyphs" stroke="#2a2a2a" stroke-width="0.12">0.2</text>
<line x1="309.0" y1="361.20" x2="312.5" y2="361.20" stroke="#1e1e1e" stroke-width="1.1"/>
<text x="305.20" y="364.15" font-size="8.3" text-anchor="end" font-weight="normal" fill="#2a2a2a" textLength="12.2" lengthAdjust="spacingAndGlyphs" stroke="#2a2a2a" stroke-width="0.12">0.3</text>
<line x1="309.0" y1="345.80" x2="312.5" y2="345.80" stroke="#1e1e1e" stroke-width="1.1"/>
<text x="305.20" y="348.75" font-size="8.3" text-anchor="end" font-weight="normal" fill="#2a2a2a" textLength="12.2" lengthAdjust="spacingAndGlyphs" stroke="#2a2a2a" stroke-width="0.12">0.4</text>
<line x1="309.0" y1="330.40" x2="312.5" y2="330.40" stroke="#1e1e1e" stroke-width="1.1"/>
<text x="305.20" y="333.35" font-size="8.3" text-anchor="end" font-weight="normal" fill="#2a2a2a" textLength="12.2" lengthAdjust="spacingAndGlyphs" stroke="#2a2a2a" stroke-width="0.12">0.5</text>
<line x1="309.0" y1="315.00" x2="312.5" y2="315.00" stroke="#1e1e1e" stroke-width="1.1"/>
<text x="305.20" y="317.95" font-size="8.3" text-anchor="end" font-weight="normal" fill="#2a2a2a" textLength="12.2" lengthAdjust="spacingAndGlyphs" stroke="#2a2a2a" stroke-width="0.12">0.6</text>
<line x1="309.0" y1="299.60" x2="312.5" y2="299.60" stroke="#1e1e1e" stroke-width="1.1"/>
<text x="305.20" y="302.55" font-size="8.3" text-anchor="end" font-weight="normal" fill="#2a2a2a" textLength="12.2" lengthAdjust="spacingAndGlyphs" stroke="#2a2a2a" stroke-width="0.12">0.7</text>
<line x1="309.0" y1="284.20" x2="312.5" y2="284.20" stroke="#1e1e1e" stroke-width="1.1"/>
<text x="305.20" y="287.15" font-size="8.3" text-anchor="end" font-weight="normal" fill="#2a2a2a" textLength="12.2" lengthAdjust="spacingAndGlyphs" stroke="#2a2a2a" stroke-width="0.12">0.8</text>
<line x1="309.0" y1="268.80" x2="312.5" y2="268.80" stroke="#1e1e1e" stroke-width="1.1"/>
<text x="305.20" y="271.75" font-size="8.3" text-anchor="end" font-weight="normal" fill="#2a2a2a" textLength="12.2" lengthAdjust="spacingAndGlyphs" stroke="#2a2a2a" stroke-width="0.12">0.9</text>
<line x1="309.0" y1="253.40" x2="312.5" y2="253.40" stroke="#1e1e1e" stroke-width="1.1"/>
<text x="305.20" y="256.35" font-size="8.3" text-anchor="end" font-weight="normal" fill="#2a2a2a" textLength="11.6" lengthAdjust="spacingAndGlyphs" stroke="#2a2a2a" stroke-width="0.12">1.0</text>
<line x1="319.90" y1="413.4" x2="319.90" y2="417.0" stroke="#1e1e1e" stroke-width="1.1"/>
<text x="319.90" y="428.30" font-size="8.3" text-anchor="middle" font-weight="normal" fill="#2a2a2a" textLength="12.6" lengthAdjust="spacingAndGlyphs" stroke="#2a2a2a" stroke-width="0.12">0.0</text>
<line x1="332.85" y1="413.4" x2="332.85" y2="417.0" stroke="#1e1e1e" stroke-width="1.1"/>
<text x="332.85" y="428.30" font-size="8.3" text-anchor="middle" font-weight="normal" fill="#2a2a2a" textLength="12.6" lengthAdjust="spacingAndGlyphs" stroke="#2a2a2a" stroke-width="0.12">0.5</text>
<line x1="345.80" y1="413.4" x2="345.80" y2="417.0" stroke="#1e1e1e" stroke-width="1.1"/>
<text x="345.80" y="428.30" font-size="8.3" text-anchor="middle" font-weight="normal" fill="#2a2a2a" textLength="12.6" lengthAdjust="spacingAndGlyphs" stroke="#2a2a2a" stroke-width="0.12">1.0</text>
<line x1="358.75" y1="413.4" x2="358.75" y2="417.0" stroke="#1e1e1e" stroke-width="1.1"/>
<text x="358.75" y="428.30" font-size="8.3" text-anchor="middle" font-weight="normal" fill="#2a2a2a" textLength="12.6" lengthAdjust="spacingAndGlyphs" stroke="#2a2a2a" stroke-width="0.12">1.5</text>
<line x1="371.70" y1="413.4" x2="371.70" y2="417.0" stroke="#1e1e1e" stroke-width="1.1"/>
<text x="371.70" y="428.30" font-size="8.3" text-anchor="middle" font-weight="normal" fill="#2a2a2a" textLength="12.6" lengthAdjust="spacingAndGlyphs" stroke="#2a2a2a" stroke-width="0.12">2.0</text>
<line x1="384.65" y1="413.4" x2="384.65" y2="417.0" stroke="#1e1e1e" stroke-width="1.1"/>
<text x="384.65" y="428.30" font-size="8.3" text-anchor="middle" font-weight="normal" fill="#2a2a2a" textLength="12.6" lengthAdjust="spacingAndGlyphs" stroke="#2a2a2a" stroke-width="0.12">2.5</text>
<line x1="397.60" y1="413.4" x2="397.60" y2="417.0" stroke="#1e1e1e" stroke-width="1.1"/>
<text x="397.60" y="428.30" font-size="8.3" text-anchor="middle" font-weight="normal" fill="#2a2a2a" textLength="12.6" lengthAdjust="spacingAndGlyphs" stroke="#2a2a2a" stroke-width="0.12">3.0</text>
<line x1="410.55" y1="413.4" x2="410.55" y2="417.0" stroke="#1e1e1e" stroke-width="1.1"/>
<text x="410.55" y="428.30" font-size="8.3" text-anchor="middle" font-weight="normal" fill="#2a2a2a" textLength="12.6" lengthAdjust="spacingAndGlyphs" stroke="#2a2a2a" stroke-width="0.12">3.5</text>
<line x1="423.50" y1="413.4" x2="423.50" y2="417.0" stroke="#1e1e1e" stroke-width="1.1"/>
<text x="423.50" y="428.30" font-size="8.3" text-anchor="middle" font-weight="normal" fill="#2a2a2a" textLength="12.6" lengthAdjust="spacingAndGlyphs" stroke="#2a2a2a" stroke-width="0.12">4.0</text>
<line x1="436.45" y1="413.4" x2="436.45" y2="417.0" stroke="#1e1e1e" stroke-width="1.1"/>
<text x="436.45" y="428.30" font-size="8.3" text-anchor="middle" font-weight="normal" fill="#2a2a2a" textLength="12.6" lengthAdjust="spacingAndGlyphs" stroke="#2a2a2a" stroke-width="0.12">4.5</text>
<line x1="449.40" y1="413.4" x2="449.40" y2="417.0" stroke="#1e1e1e" stroke-width="1.1"/>
<text x="449.40" y="428.30" font-size="8.3" text-anchor="middle" font-weight="normal" fill="#2a2a2a" textLength="12.6" lengthAdjust="spacingAndGlyphs" stroke="#2a2a2a" stroke-width="0.12">5.0</text>
<line x1="462.35" y1="413.4" x2="462.35" y2="417.0" stroke="#1e1e1e" stroke-width="1.1"/>
<text x="462.35" y="428.30" font-size="8.3" text-anchor="middle" font-weight="normal" fill="#2a2a2a" textLength="12.6" lengthAdjust="spacingAndGlyphs" stroke="#2a2a2a" stroke-width="0.12">5.5</text>
<line x1="475.30" y1="413.4" x2="475.30" y2="417.0" stroke="#1e1e1e" stroke-width="1.1"/>
<text x="475.30" y="428.30" font-size="8.3" text-anchor="middle" font-weight="normal" fill="#2a2a2a" textLength="12.6" lengthAdjust="spacingAndGlyphs" stroke="#2a2a2a" stroke-width="0.12">6.0</text>
<line x1="488.25" y1="413.4" x2="488.25" y2="417.0" stroke="#1e1e1e" stroke-width="1.1"/>
<text x="488.25" y="428.30" font-size="8.3" text-anchor="middle" font-weight="normal" fill="#2a2a2a" textLength="12.6" lengthAdjust="spacingAndGlyphs" stroke="#2a2a2a" stroke-width="0.12">6.5</text>
<line x1="501.20" y1="413.4" x2="501.20" y2="417.0" stroke="#1e1e1e" stroke-width="1.1"/>
<text x="501.20" y="428.30" font-size="8.3" text-anchor="middle" font-weight="normal" fill="#2a2a2a" textLength="12.6" lengthAdjust="spacingAndGlyphs" stroke="#2a2a2a" stroke-width="0.12">7.0</text>
<text x="374.60" y="443.00" font-size="9.2" text-anchor="start" font-weight="normal" fill="#222" textLength="73.6" lengthAdjust="spacingAndGlyphs" stroke="#222" stroke-width="0.42">Follow-up time (years)</text>
<text transform="translate(287.4,329.4) rotate(-90)" x="0" y="0" font-size="9.2" text-anchor="middle" fill="#222" textLength="45.5" lengthAdjust="spacingAndGlyphs" stroke="#222" stroke-width="0.45">OS probability</text>
<polyline points="320.00,252.80 322.00,253.20 323.20,256.75 325.50,256.75 325.50,259.90 331.90,259.90 332.50,259.90 332.50,262.30 333.10,262.30 333.10,264.70 333.50,264.70 333.50,266.90 333.90,266.90 333.90,269.10 334.30,269.10 334.30,271.30 334.70,271.30 334.70,273.50 337.50,273.50 337.90,278.20 348.85,278.50 349.30,280.65 353.65,281.60 355.60,281.60 355.60,284.00 356.50,286.20 364.20,286.40 365.20,288.50 371.40,288.80 372.40,291.20 383.50,291.20 383.90,294.90 458.20,294.90" fill="none" stroke="#b0103c" stroke-width="1.5" stroke-linejoin="miter"/>
<polyline points="319.60,252.80 320.60,252.80 320.60,254.78 321.60,254.78 321.60,256.75 324.00,256.75 324.00,259.90 326.30,259.90 326.30,261.90 327.50,265.90 328.30,269.50 329.10,273.50 329.50,275.80 329.90,280.50 348.50,280.50 349.50,281.90 355.80,281.90 356.50,287.90 369.50,287.90 370.00,294.90 475.60,294.90" fill="none" stroke="#dd8c18" stroke-width="1.3" stroke-linejoin="miter" stroke-dasharray="1.1 1.0"/>
<polyline points="320.00,252.80 322.00,252.80 322.00,254.40 324.75,254.40 324.75,256.00 325.80,256.00 325.80,258.10 326.85,258.10 326.85,260.20 327.90,260.20 327.90,262.30 329.30,262.30 329.30,264.50 330.70,264.50 330.70,266.70 331.90,266.70 331.90,268.70 333.10,268.70 333.10,270.70 334.30,270.70 334.30,272.70 336.17,272.70 336.17,273.22 338.03,273.22 338.03,273.73 339.90,273.73 339.90,274.25 340.70,275.45 345.00,275.85 346.93,275.85 346.93,276.58 348.85,276.58 348.85,277.30 349.83,277.30 349.83,279.45 350.80,279.45 350.80,281.60 354.60,282.10 357.00,282.10 357.00,283.05 359.40,283.05 359.40,284.00 364.20,284.00 365.20,286.40 367.35,286.40 367.35,287.00 369.50,287.00 369.50,287.60 371.65,287.60 371.65,288.20 373.80,288.20 373.80,288.80 378.65,289.80 383.50,290.90 385.00,291.50 397.30,291.50 399.60,291.50 399.60,293.60 401.20,293.60 401.20,294.90 503.90,294.90" fill="none" stroke="#5c3a8c" stroke-width="1.35" stroke-linejoin="miter" stroke-dasharray="3.5 2.6"/>
<line x1="374.8" y1="306.0" x2="385.2" y2="306.0" stroke="#5c3a8c" stroke-width="1.8" stroke-dasharray="4 2"/>
<line x1="374.8" y1="318.6" x2="386.4" y2="318.6" stroke="#b0103c" stroke-width="1.6"/>
<line x1="374.8" y1="331.1" x2="386.2" y2="331.1" stroke="#dd8c18" stroke-width="1.4" stroke-dasharray="1.1 1.0"/>
<text x="389.60" y="309.00" font-size="8.5" text-anchor="start" font-weight="normal" fill="#2a2a2a" textLength="39.2" lengthAdjust="spacingAndGlyphs" stroke="#2a2a2a" stroke-width="0.12">SDC/SDC</text>
<text x="389.60" y="321.10" font-size="8.5" text-anchor="start" font-weight="normal" fill="#2a2a2a" textLength="36.5" lengthAdjust="spacingAndGlyphs" stroke="#2a2a2a" stroke-width="0.12">LDC/LDC</text>
<text x="389.60" y="333.80" font-size="8.5" text-anchor="start" font-weight="normal" fill="#2a2a2a" textLength="37.4" lengthAdjust="spacingAndGlyphs" stroke="#2a2a2a" stroke-width="0.12">LDC/SDC</text>
<text x="435.60" y="308.60" font-size="8.3" text-anchor="start" font-weight="normal" fill="#2a2a2a" textLength="75.4" lengthAdjust="spacingAndGlyphs" stroke="#2a2a2a" stroke-width="0.12">N=100, 72.5 ± 6.2%</text>
<text x="435.60" y="320.70" font-size="8.3" text-anchor="start" font-weight="normal" fill="#2a2a2a" textLength="70.5" lengthAdjust="spacingAndGlyphs" stroke="#2a2a2a" stroke-width="0.12">N=61, 72.5 ± 8.1%</text>
<text x="435.60" y="333.30" font-size="8.3" text-anchor="start" font-weight="normal" fill="#2a2a2a" textLength="75.4" lengthAdjust="spacingAndGlyphs" stroke="#2a2a2a" stroke-width="0.12">N=22, 72.7 ± 13.1%</text>
<text x="319.30" y="406.10" font-size="8.3" text-anchor="start" font-weight="normal" fill="#2a2a2a" textLength="31.6" lengthAdjust="spacingAndGlyphs" stroke="#2a2a2a" stroke-width="0.12">P = .993</text>
<rect x="0" y="0" width="520" height="1.1" fill="#000"/>
<rect x="0" y="0" width="1.1" height="453" fill="#000"/>
<rect x="518.75" y="0" width="1.25" height="453" fill="#000"/>
<rect x="0" y="451.7" width="520" height="1.3" fill="#000"/>
</svg></div></body></html>
